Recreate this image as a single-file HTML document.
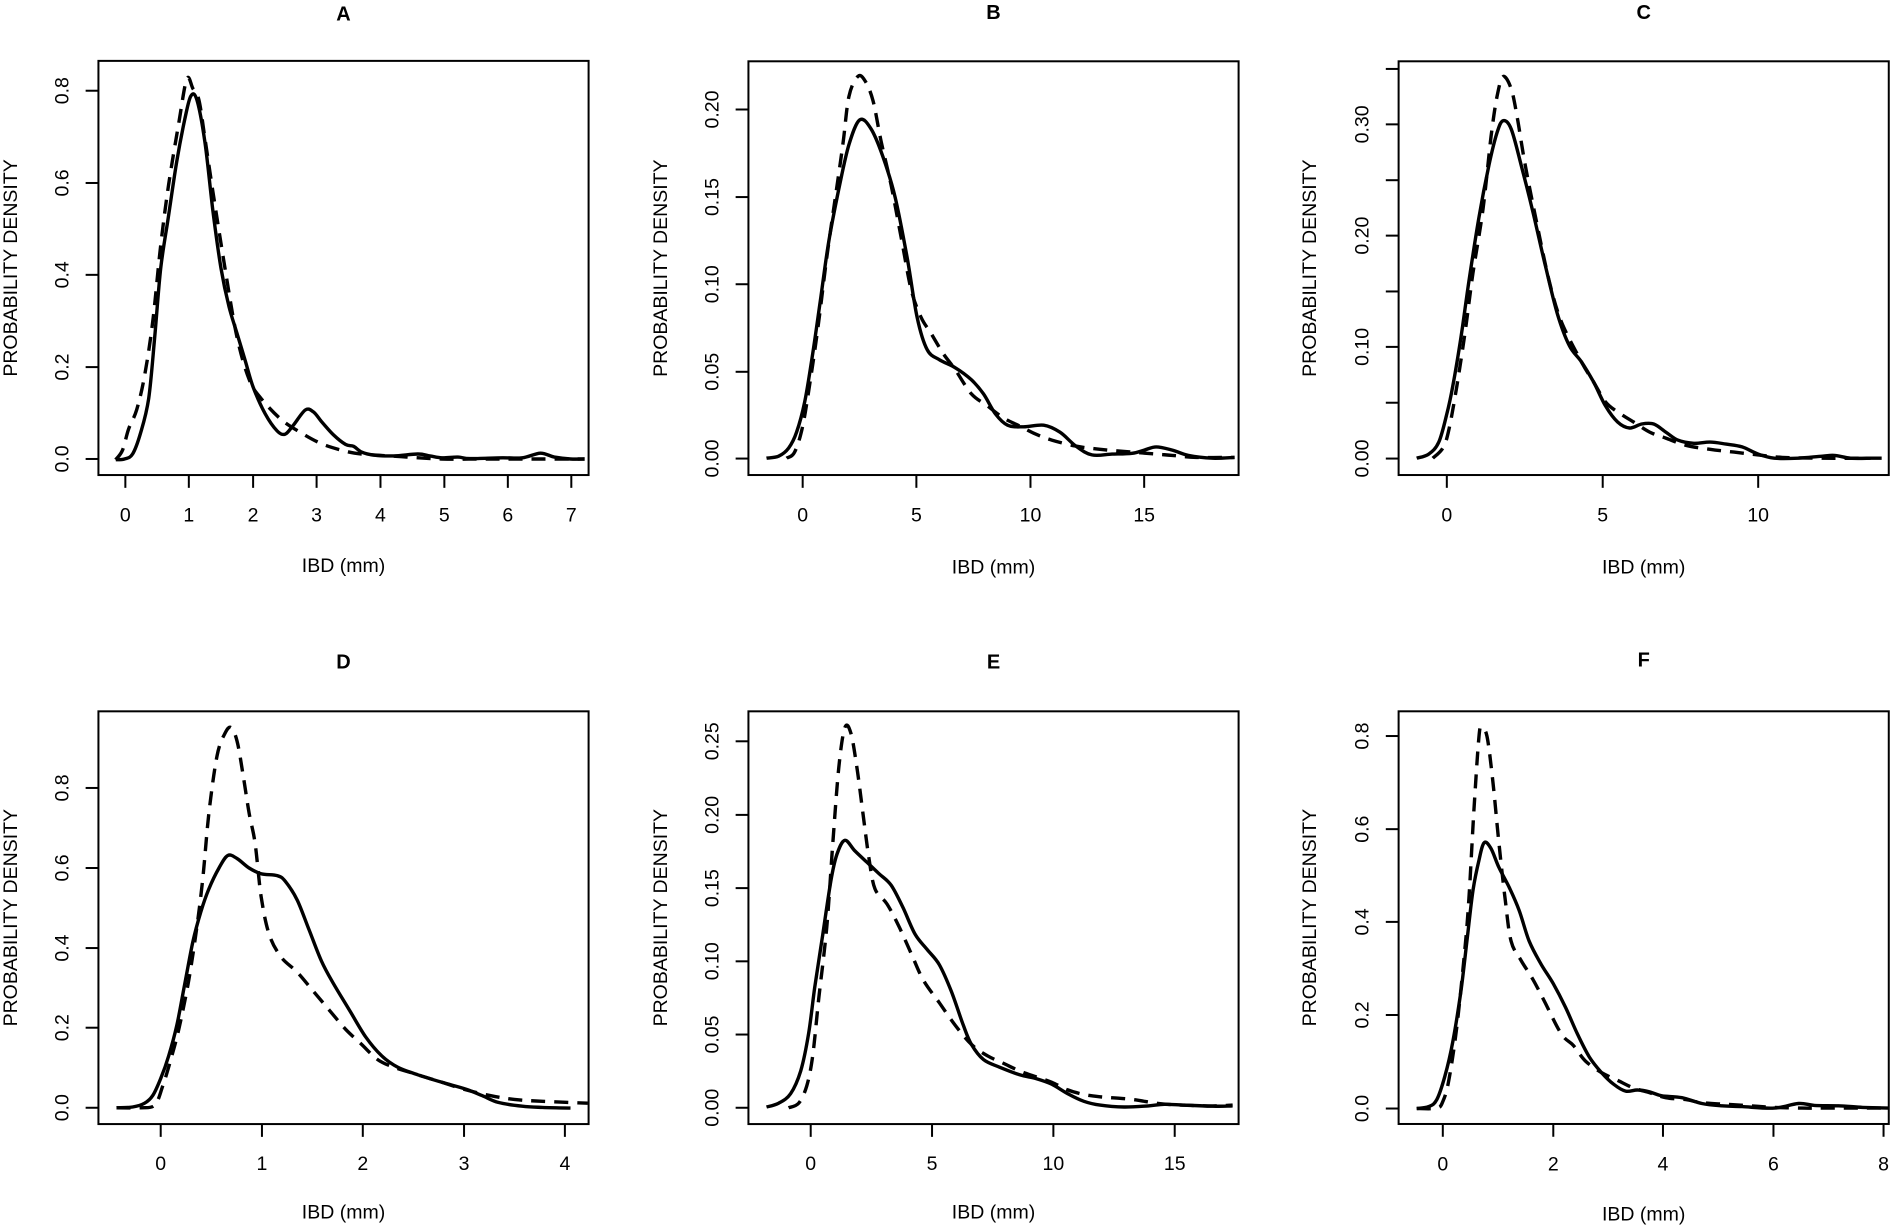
<!DOCTYPE html>
<html><head><meta charset="utf-8">
<style>
html,body{margin:0;padding:0;background:#fff;}
svg{display:block;}
text{font-family:"Liberation Sans",Arial,sans-serif;fill:#000;}
</style></head>
<body>
<svg id="s" xmlns="http://www.w3.org/2000/svg" width="1890" height="1227" viewBox="0 0 1890 1227"></svg>
<script>
var P=[
{t:"A",top:1,cx:0,vf:2.679,oy:1.9,box:[245,158,1465,1240],
 yt:[[1198,"0.0",1],[958,"0.2",1],[717,"0.4",1],[477,"0.6",1],[236,"0.8",1]],
 xt:[[312,"0"],[470,"1"],[630,"2"],[788,"3"],[947,"4"],[1106,"5"],[1264,"6"],[1422,"7"]],
 tl:1343,ti:30,xl:1475,ylx:22,ytx:150,
 s:[[288,1200],[310,1198],[330,1185],[350,1130],[370,1040],[385,880],[400,700],[420,560],[440,420],[460,310],[475,250],[490,260],[510,370],[530,550],[550,700],[570,800],[590,870],[610,940],[630,1010],[660,1080],[690,1125],[710,1133],[730,1110],[760,1070],[780,1075],[800,1100],[830,1135],[860,1160],[880,1165],[900,1180],[930,1188],[980,1190],[1040,1185],[1070,1190],[1100,1195],[1140,1193],[1170,1197],[1250,1195],[1300,1195],[1345,1183],[1380,1193],[1420,1198],[1455,1198]],
 d:[[288,1200],[305,1175],[320,1120],[340,1070],[360,980],[380,840],[400,640],[420,480],[445,320],[465,205],[480,230],[495,260],[510,360],[530,500],[560,700],[590,880],[620,990],[650,1040],[700,1095],[750,1130],[800,1158],[850,1175],[900,1185],[1000,1192],[1100,1198],[1200,1198],[1300,1198],[1455,1198]]},
{t:"B",top:1,cx:650,vf:2.553,oy:1.76,box:[245,152,1465,1182],
 yt:[[1141,"0.00",1],[925,"0.05",1],[707,"0.10",1],[490,"0.15",1],[272,"0.20",1]],
 xt:[[380,"0"],[663,"5"],[947,"10"],[1230,"15"]],
 tl:1280,ti:25,xl:1410,ylx:22,ytx:150,
 s:[[290,1140],[320,1135],[345,1115],[365,1075],[385,1000],[405,880],[425,740],[445,600],[470,470],[495,360],[522,298],[550,320],[580,390],[610,490],[640,640],[665,790],[690,870],[720,895],[760,915],[800,945],[830,980],[860,1030],[890,1058],[930,1062],[980,1058],[1020,1075],[1060,1110],[1100,1132],[1150,1130],[1200,1128],[1230,1120],[1260,1112],[1300,1120],[1340,1133],[1400,1140],[1455,1138]],
 d:[[340,1140],[360,1125],[380,1060],[400,940],[420,800],[440,640],[460,500],[480,360],[495,240],[517,190],[535,200],[555,250],[575,350],[600,460],[625,590],[650,720],[675,790],[700,830],[730,880],[760,920],[800,980],[840,1010],[880,1040],[920,1060],[960,1080],[1000,1095],[1060,1110],[1120,1118],[1200,1125],[1260,1130],[1300,1133],[1360,1138],[1455,1138]]},
{t:"C",top:1,cx:1260,vf:2.553,oy:1.76,box:[345,152,1565,1182],
 yt:[[1141,"0.00",1],[1002,"",0],[863,"0.10",1],[725,"",0],[586,"0.20",1],[448,"",0],[309,"0.30",1],[171,"",0]],
 xt:[[465,"0"],[853,"5"],[1240,"10"]],
 tl:1280,ti:25,xl:1410,ylx:120,ytx:250,
 s:[[390,1140],[420,1130],[445,1100],[465,1030],[480,960],[500,840],[520,700],[545,540],[570,410],[590,330],[605,300],[625,320],[650,410],[680,530],[710,660],[740,780],[770,860],[800,900],[830,950],[860,1010],[890,1050],[920,1065],[950,1055],[980,1055],[1010,1075],[1040,1095],[1080,1103],[1120,1100],[1160,1105],[1200,1112],[1240,1130],[1280,1140],[1340,1140],[1400,1135],[1430,1133],[1470,1140],[1520,1140]],
 d:[[430,1140],[455,1115],[470,1070],[490,960],[510,830],[530,680],[555,520],[575,340],[590,240],[605,190],[625,220],[640,290],[660,410],[690,560],[720,700],[750,800],[800,900],[830,950],[860,1000],[890,1025],[930,1050],[970,1075],[1010,1090],[1060,1108],[1120,1118],[1180,1125],[1240,1132],[1300,1138],[1400,1140],[1563,1140]]},
{t:"D",top:0,cx:0,vf:2.636,oy:630.9,box:[245,212,1465,1300],
 yt:[[1257,"0.0",1],[1046,"0.2",1],[836,"0.4",1],[625,"0.6",1],[414,"0.8",1]],
 xt:[[400,"0"],[652,"1"],[903,"2"],[1155,"3"],[1406,"4"]],
 tl:1402,ti:80,xl:1530,ylx:22,ytx:150,
 s:[[290,1257],[330,1255],[360,1245],[380,1225],[400,1180],[420,1120],[440,1040],[460,930],[480,820],[500,740],[520,680],[545,625],[567,592],[590,600],[620,625],[650,640],[690,645],[710,660],[740,710],[770,790],[800,870],[830,930],[870,1000],[910,1070],[950,1120],[990,1150],[1040,1170],[1100,1190],[1160,1208],[1200,1225],[1240,1243],[1300,1253],[1350,1256],[1420,1258]],
 d:[[290,1257],[350,1257],[385,1250],[405,1200],[425,1130],[445,1050],[470,920],[490,780],[505,650],[520,480],[540,330],[560,270],[575,255],[590,290],[605,380],[620,480],[635,560],[650,700],[670,800],[700,860],[740,900],[780,950],[820,1000],[860,1050],[900,1090],[940,1130],[980,1150],[1040,1170],[1100,1190],[1160,1210],[1220,1225],[1280,1235],[1350,1240],[1463,1245]]},
{t:"E",top:0,cx:650,vf:2.636,oy:630.9,box:[245,212,1465,1300],
 yt:[[1257,"0.00",1],[1064,"0.05",1],[871,"0.10",1],[678,"0.15",1],[485,"0.20",1],[291,"0.25",1]],
 xt:[[400,"0"],[702,"5"],[1004,"10"],[1306,"15"]],
 tl:1402,ti:80,xl:1530,ylx:22,ytx:150,
 s:[[290,1255],[320,1245],[350,1220],[375,1160],[395,1060],[410,940],[430,800],[450,660],[465,590],[485,552],[510,580],[540,610],[570,640],[600,670],[630,730],[660,800],[690,840],[720,880],[750,950],[780,1040],[800,1090],[830,1130],[870,1150],[920,1170],[960,1180],[1000,1195],[1040,1220],[1080,1240],[1120,1250],[1180,1255],[1240,1252],[1280,1248],[1330,1250],[1400,1253],[1450,1252]],
 d:[[345,1257],[370,1245],[390,1200],[405,1120],[420,970],[440,780],[455,560],[470,360],[485,255],[500,270],[515,360],[530,480],[545,600],[560,680],[590,720],[620,780],[650,850],[680,920],[720,980],[760,1040],[800,1090],[840,1120],[880,1140],[920,1160],[960,1175],[1000,1190],[1040,1210],[1080,1222],[1120,1228],[1200,1235],[1260,1245],[1320,1250],[1400,1252],[1450,1250]]},
{t:"F",top:0,cx:1260,vf:2.588,oy:620.5,box:[345,235,1565,1303],
 yt:[[1263,"0.0",1],[1021,"0.2",1],[780,"0.4",1],[540,"0.6",1],[299,"0.8",1]],
 xt:[[455,"0"],[730,"2"],[1003,"4"],[1278,"6"],[1552,"8"]],
 tl:1405,ti:100,xl:1535,ylx:120,ytx:250,
 s:[[390,1263],[420,1258],[440,1240],[460,1180],[480,1090],[500,960],[515,830],[530,700],[545,620],[558,575],[575,590],[595,640],[620,690],[645,750],[670,830],[700,890],[730,940],[760,1000],[790,1070],[820,1130],[850,1170],[880,1200],[910,1218],[940,1215],[970,1220],[1000,1230],[1050,1235],[1100,1250],[1150,1256],[1200,1258],[1280,1262],[1340,1250],[1380,1255],[1440,1256],[1500,1260],[1563,1262]],
 d:[[390,1263],[440,1262],[455,1245],[470,1190],[490,1050],[510,850],[520,720],[532,500],[545,300],[552,280],[565,300],[580,420],[595,580],[610,720],[625,830],[650,880],[680,930],[710,990],[750,1070],[780,1100],[810,1140],[850,1170],[890,1190],[930,1210],[970,1222],[1010,1235],[1060,1240],[1100,1248],[1160,1252],[1220,1256],[1280,1260],[1350,1262],[1400,1262],[1563,1262]]}
];
var H=2.489,out="";
function path(pts){
 var p=pts,s="M"+p[0][0].toFixed(1)+","+p[0][1].toFixed(1);
 for(var i=0;i<p.length-1;i++){
  var p0=p[i-1]||p[i],p1=p[i],p2=p[i+1],p3=p[i+2]||p2;
  var c1=[p1[0]+(p2[0]-p0[0])/6,p1[1]+(p2[1]-p0[1])/6];
  var c2=[p2[0]-(p3[0]-p1[0])/6,p2[1]-(p3[1]-p1[1])/6];
  s+="C"+c1[0].toFixed(1)+","+c1[1].toFixed(1)+" "+c2[0].toFixed(1)+","+c2[1].toFixed(1)+" "+p2[0].toFixed(1)+","+p2[1].toFixed(1);
 }
 return s;
}
P.forEach(function(q){
 var X=function(v){return q.cx+v/H;};
 var Y=function(v){var y=q.oy+v/q.vf; if(q.top&&y>61.3){y=61.3+(y-61.3)*1.0255;} return y;};
 var L=X(q.box[0]),T=Y(q.box[1]),R=X(q.box[2]),B=Y(q.box[3]);
 var mx=(L+R)/2,my=(T+B)/2;
 out+='<rect x="'+L+'" y="'+T+'" width="'+(R-L)+'" height="'+(B-T)+'" fill="none" stroke="#000" stroke-width="2"/>';
 out+='<text x="'+mx+'" y="'+(Y(q.ti)+7.5)+'" text-anchor="middle" font-size="20" font-weight="bold">'+q.t+'</text>';
 out+='<text x="'+mx+'" y="'+(Y(q.xl)+7)+'" text-anchor="middle" font-size="19.5">IBD (mm)</text>';
 var yx=X(q.ylx)+8;
 out+='<text transform="translate('+yx+','+my+') rotate(-90)" text-anchor="middle" font-size="19.5">PROBABILITY DENSITY</text>';
 q.yt.forEach(function(t){var y=Y(t[0]);
  out+='<line x1="'+(L-12.8)+'" y1="'+y+'" x2="'+L+'" y2="'+y+'" stroke="#000" stroke-width="2"/>';
  if(t[2]){var tx=X(q.ytx)+8;out+='<text transform="translate('+tx+','+y+') rotate(-90)" text-anchor="middle" font-size="19.5">'+t[1]+'</text>';}
 });
 q.xt.forEach(function(t){var x=X(t[0]);
  out+='<line x1="'+x+'" y1="'+B+'" x2="'+x+'" y2="'+(B+12.8)+'" stroke="#000" stroke-width="2"/>';
  out+='<text x="'+x+'" y="'+(Y(q.tl)+7)+'" text-anchor="middle" font-size="19.5">'+t[1]+'</text>';
 });
 var cv=function(a){return a.map(function(p){return [X(p[0]),Y(p[1])];});};
 out+='<path d="'+path(cv(q.s))+'" fill="none" stroke="#000" stroke-width="3.4" stroke-linejoin="round"/>';
 out+='<path d="'+path(cv(q.d))+'" fill="none" stroke="#000" stroke-width="3.4" stroke-dasharray="14,9"/>';
});
document.getElementById("s").innerHTML=out;
</script>
</body></html>
